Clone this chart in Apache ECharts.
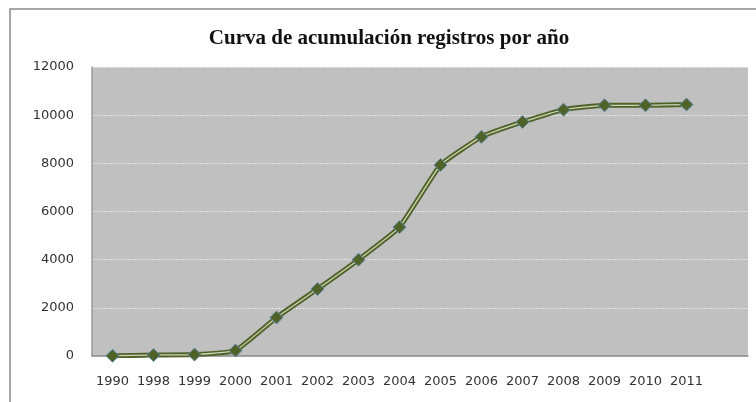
<!DOCTYPE html>
<html>
<head>
<meta charset="utf-8">
<script src="https://cdn.jsdelivr.net/npm/echarts@6/dist/echarts.min.js"></script>
<style>
  html, body { margin: 0; padding: 0; background: #fff; }
  #chart { width: 756px; height: 402px; }
</style>
</head>
<body>
<div id="chart"></div>
<script>
// años (la última categoría va vacía, como en la hoja original)
var years = ['1990', '1998', '1999', '2000', '2001', '2002', '2003', '2004',
             '2005', '2006', '2007', '2008', '2009', '2010', '2011', ''];
// registros acumulados
var acumulado = [10, 40, 60, 230, 1600, 2780, 4000, 5350,
                 7930, 9100, 9720, 10230, 10410, 10410, 10440, null];
var yTicks = [0, 2000, 4000, 6000, 8000, 10000, 12000];

var myChart = echarts.init(document.getElementById('chart'));
var option = {
    animation: false,
    title: {
        text: 'Curva de acumulación registros por año',
        left: 384,
        textAlign: 'center',
        top: 23,
        textStyle: {
            fontFamily: 'Liberation Serif',
            fontSize: 21,
            fontWeight: 'bold',
            color: '#111'
        }
    },
    // marco exterior del gráfico
    graphic: [{
        type: 'rect',
        shape: { x: 10, y: 9, width: 800, height: 450 },
        style: { fill: 'none', stroke: '#8a8a8a', lineWidth: 1.5 },
        silent: true
    }],
    grid: {
        left: 92,
        right: 8,
        top: 67,
        bottom: 46,
        show: true,
        backgroundColor: '#c0c0c0',
        borderWidth: 0
    },
    xAxis: {
        type: 'category',
        data: years,
        boundaryGap: true,
        axisLine: { lineStyle: { color: '#8c8c8c', width: 1.5 } },
        axisTick: { show: false },
        axisLabel: {
            margin: 19,
            color: '#333',
            fontFamily: 'DejaVu Sans',
            fontSize: 13,
            interval: 0
        }
    },
    yAxis: {
        type: 'value',
        min: yTicks[0],
        max: yTicks[yTicks.length - 1],
        interval: 2000,
        axisLine: { show: true, lineStyle: { color: '#9a9a9a', width: 1.5 } },
        axisTick: { show: false },
        axisLabel: {
            margin: 18,
            color: '#333',
            fontFamily: 'DejaVu Sans',
            fontSize: 13,
            formatter: function (v) { return String(v); }
        },
        splitLine: {
            lineStyle: { color: '#e4e4e4', type: [2, 1], width: 1 }
        }
    },
    series: [
        {
            // línea exterior oscura
            type: 'line',
            data: acumulado,
            smooth: 0.12,
            showSymbol: false,
            lineStyle: { color: '#4f6228', width: 5 },
            z: 2
        },
        {
            // filete claro interior
            type: 'line',
            data: acumulado,
            smooth: 0.12,
            showSymbol: false,
            lineStyle: { color: '#cdd3b4', width: 1.3 },
            z: 3
        },
        {
            // marcadores de rombo
            type: 'line',
            data: acumulado,
            symbol: 'diamond',
            symbolSize: 13,
            lineStyle: { opacity: 0 },
            itemStyle: { color: '#4f6228', borderColor: '#5f8aa6', borderWidth: 1 },
            z: 4
        }
    ]
};
myChart.setOption(option);
</script>
</body>
</html>
